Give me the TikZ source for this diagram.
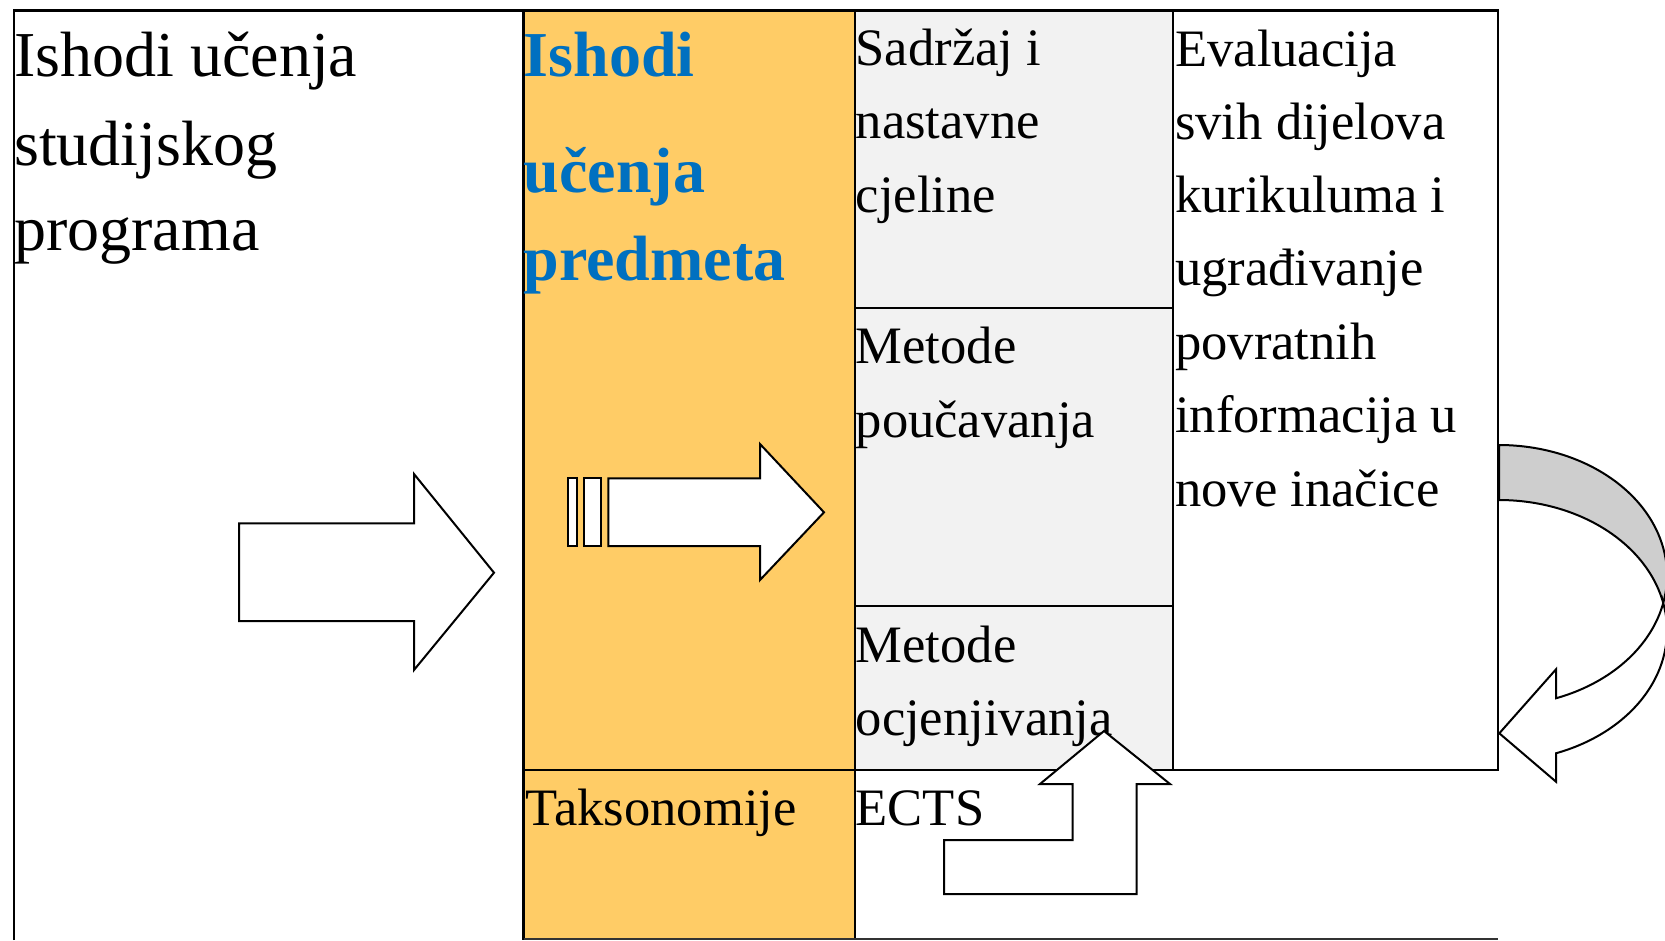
\documentclass[tikz,border=0pt]{standalone}
\usepackage{fontspec}
\setmainfont{Liberation Serif}
\definecolor{orangecol}{RGB}{255,204,102}
\definecolor{greycol}{RGB}{242,242,242}
\definecolor{bluetxt}{RGB}{0,112,192}
\definecolor{backband}{RGB}{206,206,206}
\tikzset{
  bigtxt/.style={anchor=base west, inner sep=0pt, font=\fontsize{64}{77}\selectfont},
  bluetxtstyle/.style={anchor=base west, inner sep=0pt, font=\fontsize{64}{77}\selectfont\bfseries, text=bluetxt},
  normtxt/.style={anchor=base west, inner sep=0pt, font=\fontsize{52.6}{62}\selectfont},
  gridline/.style={line width=2.5pt, draw=black},
  arrowshape/.style={line width=2pt, draw=black, fill=white, line join=miter},
}
\begin{document}
\begin{tikzpicture}[x=1pt,y=-1pt]
\useasboundingbox (0,0) rectangle (1665,940);
% fills
\fill[orangecol] (523.5,10.5) rectangle (855,938.5);
\fill[greycol] (855,10.5) rectangle (1173,770);
% grid lines
\draw[gridline] (14,940) -- (14,10.5) -- (1498,10.5) -- (1498,770) -- (855,770);
\draw[gridline] (523.5,10.5) -- (523.5,940);
\draw[gridline] (855,10.5) -- (855,940);
\draw[gridline] (1173,10.5) -- (1173,770);
\draw[gridline] (523.5,770) -- (855,770);
\draw[gridline] (855,308) -- (1173,308);
\draw[gridline] (855,606) -- (1173,606);
\draw[line width=2pt, draw=black!80] (523.5,939) -- (1498,939);
% texts
\node[bigtxt] (l1) at (14,76) {Ishodi učenja};
\node[bigtxt] (l2) at (14,165) {studijskog};
\node[bigtxt] (l3) at (14,250) {programa};
\node[bluetxtstyle] (b1) at (523.5,76) {Ishodi};
\node[bluetxtstyle] (b2) at (523.5,192) {učenja};
\node[bluetxtstyle] (b3) at (523.5,280) {predmeta};
\node[normtxt] (s1) at (855.5,65) {Sadržaj i};
\node[normtxt] (s2) at (855.5,138) {nastavne};
\node[normtxt] (s3) at (855.5,212) {cjeline};
\node[normtxt] (m1) at (855.5,363) {Metode};
\node[normtxt] (m2) at (855.5,437) {poučavanja};
\node[normtxt] (o1) at (855.5,662) {Metode};
\node[normtxt] (o2) at (855.5,735) {ocjenjivanja};
\node[normtxt] (e1) at (1175,66) {Evaluacija};
\node[normtxt] (e2) at (1175,139) {svih dijelova};
\node[normtxt] (e3) at (1175,212) {kurikuluma i};
\node[normtxt] (e4) at (1175,285) {ugrađivanje};
\node[normtxt] (e5) at (1175,359) {povratnih};
\node[normtxt] (e6) at (1175,432) {informacija u};
\node[normtxt] (e7) at (1175,506) {nove inačice};
\node[normtxt] (tk) at (525.5,825) {Taksonomije};
\node[normtxt] (ec) at (855.5,825) {ECTS};
% big arrow in left column
\draw[arrowshape] (239,523.3) -- (414,523.3) -- (414,474) -- (494,572.7) -- (414,670) -- (414,621) -- (239,621) -- cycle;
% striped arrow in orange column
\draw[arrowshape] (568.3,478.3) rectangle (577.3,546);
\draw[arrowshape] (584.3,478.3) rectangle (601.3,546);
\draw[arrowshape] (608.3,478.3) -- (760,478.3) -- (760,444) -- (824,512.3) -- (760,580) -- (760,546) -- (608.3,546) -- cycle;
% bent up arrow
\draw[arrowshape] (944,894) -- (1136.7,894) -- (1136.7,784) -- (1170,784) -- (1104,731) -- (1040,784) -- (1072.7,784) -- (1072.7,840) -- (944,840) -- cycle;
% curved arrow: back face
\filldraw[arrowshape, fill=backband] plot[domain=-90:12.17, samples=60] ({1499+168*cos(\x)},{575.5+130.5*sin(\x)}) -- plot[domain=-12.17:-90, samples=60] ({1499+168*cos(\x)},{630.5+130.5*sin(\x)}) -- cycle;
% curved arrow: front face
\filldraw[arrowshape] plot[domain=-12.17:70.17, samples=60] ({1499+168*cos(\x)},{630.5+130.5*sin(\x)}) -- (1556,781.7) -- (1499.3,733.3) -- (1556,669.3) -- plot[domain=70.17:12.17, samples=50] ({1499+168*cos(\x)},{575.5+130.5*sin(\x)}) -- cycle;
\end{tikzpicture}
\end{document}
